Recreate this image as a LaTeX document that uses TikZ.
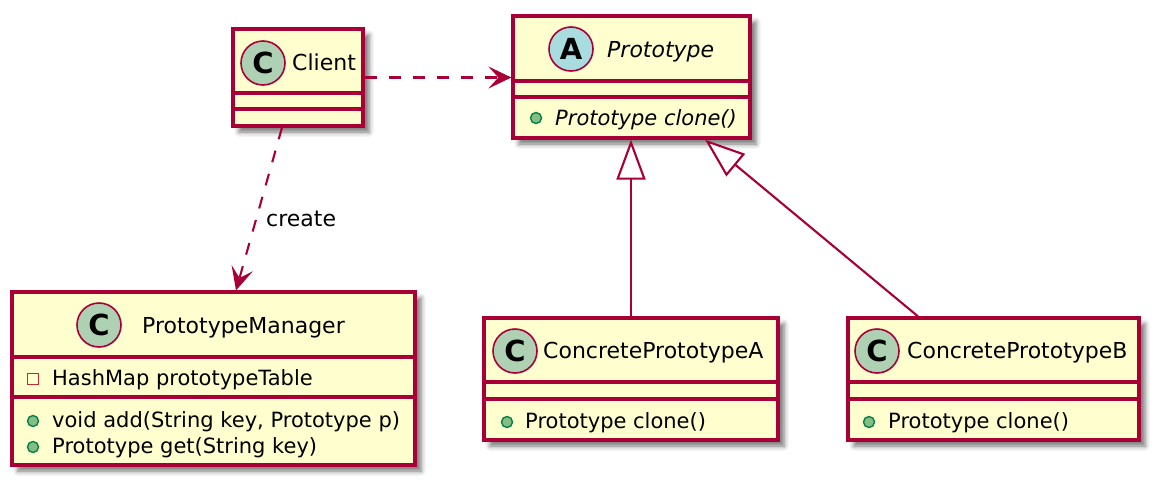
\documentclass[tikz,border=0pt]{standalone}
\usepackage{fontspec}
\setmainfont{DejaVu Sans}
\usetikzlibrary{arrows.meta,calc,shadows.blur}

\definecolor{umlred}{HTML}{A80036}
\definecolor{umlfill}{HTML}{FEFECE}
\definecolor{spotC}{HTML}{ADD1B2}
\definecolor{spotA}{HTML}{A9DCDF}
\definecolor{pubfill}{HTML}{84BE84}
\definecolor{publine}{HTML}{038048}
\definecolor{privline}{HTML}{C82930}

\newcommand\umltitle{\fontsize{22}{26}\selectfont}
\newcommand\umlmember{\fontsize{21}{25}\selectfont}

\tikzset{
  classbox/.style={rectangle, draw=umlred, fill=umlfill, line width=3.2pt, inner sep=0pt,
    blur shadow={shadow xshift=6pt, shadow yshift=-6pt, shadow blur radius=5pt, shadow opacity=55}},
  divider/.style={draw=umlred, line width=3.1pt},
  spot/.style={circle, draw=umlred, line width=1.6pt, minimum size=44pt, inner sep=0pt,
    font=\fontsize{29}{29}\selectfont\bfseries},
  title/.style={anchor=base west, inner sep=0pt, font=\umltitle},
  member/.style={anchor=base west, inner sep=0pt, font=\umlmember},
  pubdot/.style={circle, draw=publine, fill=pubfill, line width=1.4pt, minimum size=11pt, inner sep=0pt},
  privsq/.style={rectangle, draw=privline, line width=1.5pt, minimum size=11pt, inner sep=0pt},
  conn/.style={draw=umlred, line width=2.1pt},
  depend/.style={conn, dash pattern=on 12pt off 12pt, -{Stealth[length=23pt, width=22pt, inset=10pt]}},
  inherit/.style={conn, -{Triangle[length=40pt, width=29pt, fill=white]}},
}

\begin{document}
\begin{tikzpicture}[x=1pt, y=-1pt]
\useasboundingbox (0,0) rectangle (1158,485);

% ---- class boxes ----
\node[classbox, minimum width=130pt, minimum height=97pt]  (client) at (298,77.5)   {};
\node[classbox, minimum width=237pt, minimum height=122pt] (proto)  at (631.5,77)   {};
\node[classbox, minimum width=403pt, minimum height=173pt] (mgr)    at (213.5,378.5) {};
\node[classbox, minimum width=294pt, minimum height=122pt] (cpa)    at (631,379)    {};
\node[classbox, minimum width=291pt, minimum height=122pt] (cpb)    at (993.5,379)  {};

% ---- compartment dividers ----
\foreach \n/\ya/\yb in {client/93/109, proto/81/97, mgr/357/397, cpa/382/399, cpb/382/399}{
  \draw[divider] (\n.west |- 0,\ya) -- (\n.east |- 0,\ya);
  \draw[divider] (\n.west |- 0,\yb) -- (\n.east |- 0,\yb);
}

% ---- Client ----
\node[spot, fill=spotC] (clientS) at (263,63) {C};
\node[title] (clientT) at (292,70) {Client};

% ---- Prototype (abstract) ----
\node[spot, fill=spotA] (protoS) at (571,49) {A};
\node[title] (protoT) at (607,57) {\itshape Prototype};
\node[pubdot] (protoM1d) at (536,118) {};
\node[member] (protoM1) at (555,125) {\itshape Prototype clone()};

% ---- PrototypeManager ----
\node[spot, fill=spotC] (mgrS) at (99,325) {C};
\node[title] (mgrT) at (142,333) {PrototypeManager};
\node[privsq] (mgrA1d) at (33,379) {};
\node[member] (mgrA1) at (52,385) {HashMap prototypeTable};
\node[pubdot] (mgrM1d) at (33,421) {};
\node[member] (mgrM1) at (52,427) {void add(String key, Prototype p)};
\node[pubdot] (mgrM2d) at (33,447) {};
\node[member] (mgrM2) at (52,453) {Prototype get(String key)};

% ---- ConcretePrototypeA ----
\node[spot, fill=spotC] (cpaS) at (515,351) {C};
\node[title] (cpaT) at (543,358) {ConcretePrototypeA};
\node[pubdot] (cpaM1d) at (507,422) {};
\node[member] (cpaM1) at (525,428) {Prototype clone()};

% ---- ConcretePrototypeB ----
\node[spot, fill=spotC] (cpbS) at (877,351) {C};
\node[title] (cpbT) at (907,358) {ConcretePrototypeB};
\node[pubdot] (cpbM1d) at (869,422) {};
\node[member] (cpbM1) at (888,428) {Prototype clone()};

% ---- relations ----
\draw[depend] (client.east) -- (client.east -| proto.west);
\draw[depend] ($(client.south)+(-16,0)$) -- ($(mgr.north)+(22.5,0)$);
\node[title] (createL) at (266,226) {create};
\draw[inherit] (cpa.north) -- (cpa.north |- proto.south);
\draw[inherit] ($(cpb.north)+(-75.5,0)$) -- ($(proto.south)+(73.5,0)$);
\end{tikzpicture}
\end{document}
